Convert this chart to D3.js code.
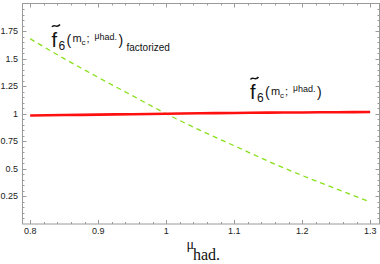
<!DOCTYPE html>
<html>
<head>
<meta charset="utf-8">
<script src="https://cdn.jsdelivr.net/npm/d3@7"></script>
<style>
  body { margin: 0; background: #fff; }
  text { font-family: "Liberation Sans", Arial, sans-serif; }
</style>
</head>
<body>
<div id="drawing"></div>
<script>
const width = 380;
const height = 264;

// values
const muValues = [0.8, 0.85, 0.9, 0.95, 1.0, 1.05, 1.1, 1.15, 1.2, 1.25, 1.3];
const f6Values = [0.984, 0.988, 0.992, 0.996, 1.0, 1.004, 1.007, 1.010, 1.012, 1.014, 1.016];
const f6FactValues = [1.68, 1.50, 1.33, 1.165, 1.0, 0.85, 0.71, 0.57, 0.44, 0.32, 0.2];
const xTicks = [0.8, 0.9, 1, 1.1, 1.2, 1.3];
const yTicks = [0.25, 0.5, 0.75, 1, 1.25, 1.5, 1.75];

const svg = d3.select("#drawing").append("svg")
  .attr("width", width)
  .attr("height", height)
  .style("display", "block");

const xScale = d3.scaleLinear().domain([0.788, 1.313]).range([22, 379]);
const yScale = d3.scaleLinear().domain([0, 2]).range([224, 3.5]);

const frameColor = "#9a9a9a";

// minor tick positions (major ones are picked out of these)
const xMinor = d3.range(0.8, 1.3001, 0.02);
const yMinor = d3.range(0.05, 1.9999, 0.05);

const bottomY = yScale.range()[0];
const topY = yScale.range()[1];
const leftX = xScale.range()[0] + 0.5;
const rightX = xScale.range()[1] + 0.5;

// frame, ticks on all four sides pointing inwards
const frame = svg.append("g");
frame.append("rect")
  .attr("x", leftX)
  .attr("y", topY)
  .attr("width", rightX - leftX)
  .attr("height", bottomY - topY)
  .attr("fill", "none")
  .attr("stroke", frameColor)
  .attr("stroke-width", 1);

xMinor.forEach(v => {
  const major = xTicks.some(t => Math.abs(t - v) < 1e-6);
  const len = major ? 4 : 2;
  const x = Math.round(xScale(v)) + 0.5;
  frame.append("line").attr("x1", x).attr("x2", x)
    .attr("y1", bottomY).attr("y2", bottomY - len)
    .attr("stroke", frameColor);
  frame.append("line").attr("x1", x).attr("x2", x)
    .attr("y1", topY).attr("y2", topY + len)
    .attr("stroke", frameColor);
});

yMinor.forEach(v => {
  const major = yTicks.some(t => Math.abs(t - v) < 1e-6);
  const len = major ? 4 : 2;
  const y = Math.round(yScale(v)) + 0.5;
  frame.append("line").attr("x1", leftX).attr("x2", leftX + len)
    .attr("y1", y).attr("y2", y)
    .attr("stroke", frameColor);
  frame.append("line").attr("x1", rightX).attr("x2", rightX - len)
    .attr("y1", y).attr("y2", y)
    .attr("stroke", frameColor);
});

// tick labels
svg.append("g").selectAll("text")
  .data(xTicks)
  .join("text")
  .attr("x", d => xScale(d))
  .attr("y", 234)
  .attr("text-anchor", "middle")
  .attr("font-size", 9)
  .attr("fill", "#222")
  .text(d => d);

svg.append("g").selectAll("text")
  .data(yTicks)
  .join("text")
  .attr("x", 18)
  .attr("y", d => yScale(d) + 3)
  .attr("text-anchor", "end")
  .attr("font-size", 9)
  .attr("fill", "#222")
  .text(d => d);

// curves
const rows = muValues.map((m, i) => ({mu: m, f6: f6Values[i], fact: f6FactValues[i]}));

const lineF6 = d3.line()
  .x(d => xScale(d.mu))
  .y(d => yScale(d.f6))
  .curve(d3.curveMonotoneX);

const lineFact = d3.line()
  .x(d => xScale(d.mu))
  .y(d => yScale(d.fact))
  .curve(d3.curveMonotoneX);

svg.append("path")
  .attr("d", lineFact(rows))
  .attr("fill", "none")
  .attr("stroke", "#88e01c")
  .attr("stroke-width", 1.3)
  .attr("stroke-dasharray", "5,4");

svg.append("path")
  .attr("d", lineF6(rows))
  .attr("fill", "none")
  .attr("stroke", "#ff1010")
  .attr("stroke-width", 2.6);

// labels: f~6(mc; mu_had.) with an optional "factorized"
function f6Label(x, y, withSuffix) {
  const g = svg.append("g").attr("fill", "#111");
  // tilde over the f, drawn as a small wave
  const ty = y - 21;
  g.append("path")
    .attr("d", `M${x + 0.5},${ty + 1.5} C${x + 2.5},${ty - 2.5} ${x + 5},${ty + 3.5} ${x + 8.5},${ty - 1}`)
    .attr("fill", "none")
    .attr("stroke", "#111")
    .attr("stroke-width", 1.5);
  const t = g.append("text").attr("y", y);
  const part = (dx, dy, size, str) =>
    t.append("tspan").attr("x", x + dx).attr("y", y + dy).attr("font-size", size).text(str);
  part(0, 0, 20, "f");
  part(7, 3, 12, "6");
  part(15, -2, 14, "(");
  part(21, -4.5, 11, "m");
  part(30, -1.5, 8, "c");
  part(35, -4.5, 11, ";");
  part(43, -8, 8.5, "μ");
  part(48, -7, 9, "had.");
  part(67, -2, 14, ")");
  if (withSuffix) part(75, 4, 10, "factorized");
}

f6Label(51.5, 46.5, true);
f6Label(250, 99, false);

// x axis title
const serif = "'Liberation Serif', 'Times New Roman', serif";
const xt = svg.append("g").attr("fill", "#111");
xt.append("text").attr("x", 186.5).attr("y", 249).attr("font-size", 14)
  .style("font-family", serif).text("μ");
xt.append("text").attr("x", 193).attr("y", 260).attr("font-size", 16)
  .style("font-family", serif).text("had.");
</script>
</body>
</html>
